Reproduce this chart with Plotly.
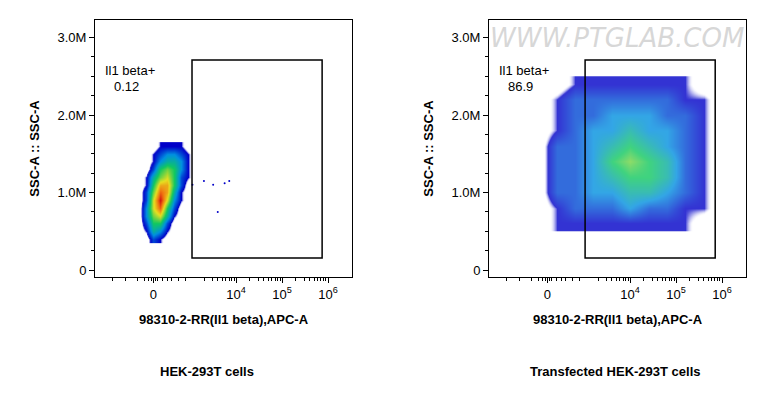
import plotly.graph_objects as go
import math

# ---- data ----
left_x = [1.9, 2.05, 2.2, 2.35, 2.5, 2.65, 2.8, 2.95, 3.1]
left_y = [0.4, 0.5, 0.6, 0.7, 0.8, 0.9, 1.0, 1.1, 1.2, 1.3, 1.4, 1.5, 1.6]
left_z = [
    [0, 0, 2, 1, 0, 0, 0, 0, 0],
    [0, 1, 4, 3, 1, 0, 0, 0, 0],
    [0, 2, 5, 5, 2, 0, 0, 0, 0],
    [0, 3, 6, 7, 4, 1, 0, 0, 0],
    [0, 3, 7, 9, 5, 2, 0, 0, 0],
    [0, 2, 7, 10, 7, 3, 1, 0, 0],
    [0, 2, 6, 9, 8, 4, 1, 0, 0],
    [0, 1, 5, 8, 8, 5, 2, 0, 0],
    [0, 1, 4, 6, 7, 5, 2, 1, 0],
    [0, 0, 2, 5, 6, 5, 3, 1, 0],
    [0, 0, 1, 3, 4, 4, 3, 1, 0],
    [0, 0, 1, 2, 3, 3, 2, 1, 0],
    [0, 0, 0, 1, 1, 1, 1, 0, 0],
]
left_dots_x = [3.05, 3.3, 3.5, 3.6, 3.75, 3.85]
left_dots_y = [1.1, 1.15, 1.1, 0.75, 1.12, 1.15]

right_x = [2.0, 2.4, 2.8, 3.2, 3.6, 4.0, 4.4, 4.8, 5.2, 5.6, 6.0]
right_y = [0.6, 0.8, 1.0, 1.2, 1.4, 1.6, 1.8, 2.0, 2.2, 2.4]
right_z = [
    [0, 1, 1, 1, 1, 1, 1, 1, 1, 0, 0],
    [0, 1, 2, 2, 2, 3, 2, 2, 1, 1, 0],
    [0, 2, 2, 3, 3, 4, 4, 3, 2, 1, 0],
    [0, 2, 2, 3, 4, 5, 5, 4, 2, 1, 0],
    [0, 2, 2, 3, 5, 6, 5, 4, 2, 1, 0],
    [0, 2, 2, 3, 4, 5, 4, 3, 2, 1, 0],
    [0, 1, 2, 3, 3, 4, 3, 3, 2, 1, 0],
    [0, 1, 2, 2, 3, 3, 3, 2, 2, 1, 0],
    [0, 1, 2, 2, 2, 2, 2, 2, 1, 1, 0],
    [0, 0, 1, 1, 1, 1, 1, 1, 1, 0, 0],
]

y_tickvals = [0, 1, 2, 3]
y_ticktext = ["0", "1.0M", "2.0M", "3.0M"]
x_tickvals = [2.2, 4, 5, 6]
x_ticktext = ["0", "10<sup>4</sup>", "10<sup>5</sup>", "10<sup>6</sup>"]
gate_names = ["Il1 beta+", "Il1 beta+"]
gate_pcts = ["0.12", "86.9"]
captions = ["HEK-293T cells", "Transfected HEK-293T cells"]
x_title = "98310-2-RR(Il1 beta),APC-A"
y_title = "SSC-A :: SSC-A"

# ---- figure ----
W, H = 763, 417
cs = [[0, "rgba(255,255,255,0)"], [0.06, "rgba(255,255,255,0)"], [0.1, "#0000c8"],
      [0.3, "#0090e0"], [0.5, "#10c860"], [0.72, "#e8e020"], [0.88, "#f07010"], [1, "#d01010"]]
font = dict(family="Liberation Sans", size=13, color="black")

fig = go.Figure()
panels = [(87, 344, left_x, left_y, left_z, 3.04, 5.87, 1.0, 199),
          (481, 738, right_x, right_y, right_z, 3.02, 5.85, 0.8, 607)]
minor = []
for dec in [3, 4, 5]:
    minor += [dec + math.log10(k) for k in range(2, 10)]
minor += [1.3, 1.6, 1.85, 2.0, 2.1, 2.15, 2.25, 2.3, 2.4, 2.5, 2.6, 2.75, 2.9]

top_px, bot_px = 12, 269
for i, (x0, x1, hx, hy, hz, g0, g1, op, capx) in enumerate(panels):
    s = "" if i == 0 else "2"
    fig.add_trace(go.Heatmap(x=hx, y=hy, z=hz, colorscale=cs, zmin=0, zmax=10, zsmooth="best",
                             opacity=op, showscale=False, xaxis="x" + s, yaxis="y" + s, hoverinfo="skip"))
    ax = dict(domain=[x0 / W, x1 / W], range=[0.93, 6.52], showgrid=False, zeroline=False,
              showline=True, mirror=True, linecolor="black", linewidth=1, automargin=False,
              ticks="outside", ticklen=5, tickcolor="black", tickvals=x_tickvals, ticktext=x_ticktext,
              tickfont=font,
              minor=dict(tickvals=minor, ticklen=3, ticks="outside", tickcolor="black"),
              title=dict(text="<b>" + x_title + "</b>", font=font, standoff=14),
              anchor="y" + s)
    ay = dict(domain=[1 - bot_px / H, 1 - top_px / H], range=[-0.09, 3.226], showgrid=False, zeroline=False,
              showline=True, mirror=True, linecolor="black", linewidth=1, automargin=False,
              ticks="outside", ticklen=5, tickcolor="black", tickvals=y_tickvals, ticktext=y_ticktext,
              tickfont=font,
              minor=dict(dtick=0.25, ticklen=3, ticks="outside", tickcolor="black"),
              title=dict(text="<b>" + y_title + "</b>", font=font, standoff=14),
              anchor="x" + s)
    fig.layout["xaxis" + s] = ax
    fig.layout["yaxis" + s] = ay
    fig.add_shape(type="rect", xref="x" + s, yref="y" + s, x0=g0, x1=g1, y0=0.155, y1=2.71,
                  line=dict(color="black", width=1.5))
    fig.add_annotation(xref="x" + s, yref="y" + s, x=1.7, y=2.58, yanchor="middle", text=gate_names[i],
                       showarrow=False, font=font)
    fig.add_annotation(xref="x" + s, yref="y" + s, x=1.62, y=2.37, yanchor="middle", text=gate_pcts[i],
                       showarrow=False, font=font)
    fig.add_annotation(xref="paper", yref="paper", x=capx / W, y=1 - 363 / H, xanchor="center",
                       yanchor="middle", text="<b>" + captions[i] + "</b>", showarrow=False, font=font)

fig.add_trace(go.Scatter(x=left_dots_x, y=left_dots_y, mode="markers", marker=dict(size=2, color="#0000c8"),
                         xaxis="x", yaxis="y", hoverinfo="skip"))
fig.add_annotation(xref="paper", yref="paper", x=609 / W, y=1 - 30 / H, xanchor="center", yanchor="middle",
                   text="<i>WWW.PTGLAB.COM</i>",
                   showarrow=False, font=dict(family="DejaVu Sans", size=26, color="rgba(205,205,205,0.8)"))

fig.update_layout(width=W, height=H, margin=dict(l=0, r=0, t=0, b=0), plot_bgcolor="white",
                  paper_bgcolor="white", showlegend=False)
fig.write_html("out.html")
